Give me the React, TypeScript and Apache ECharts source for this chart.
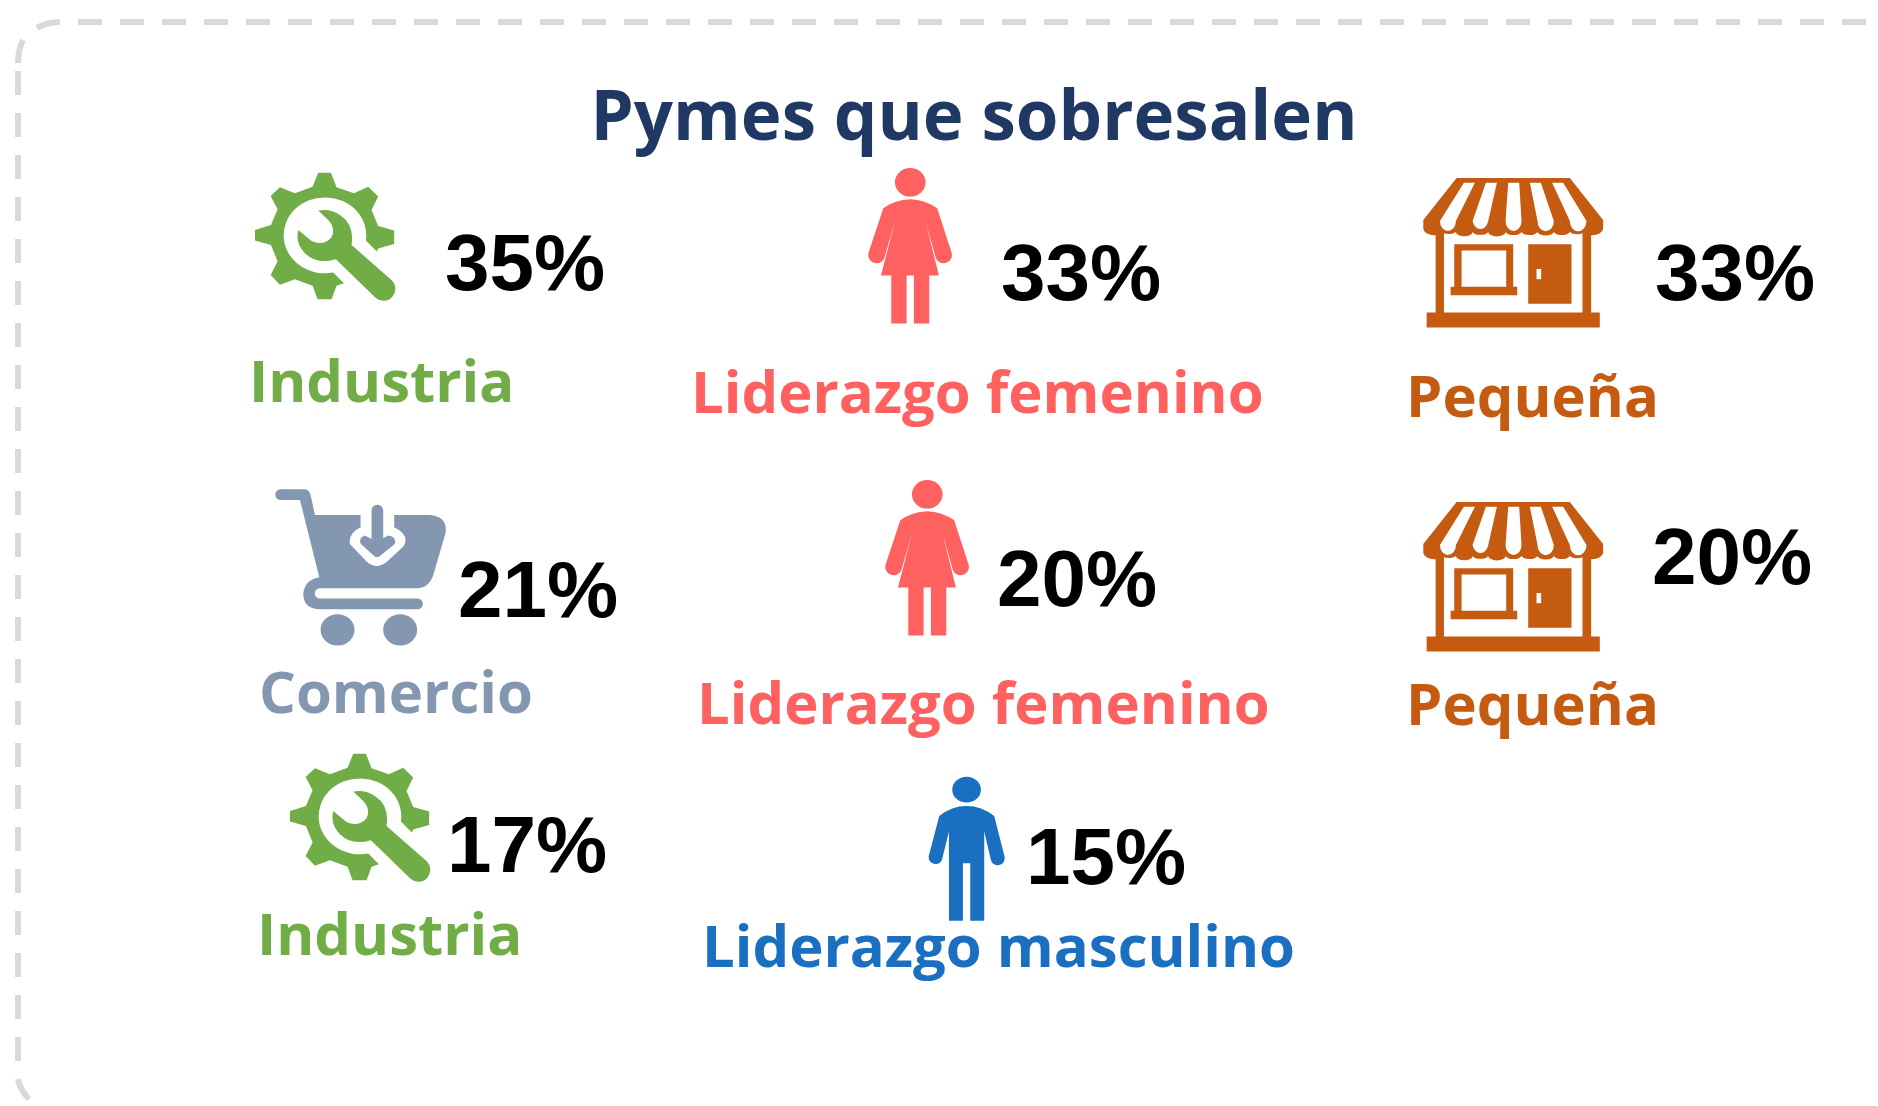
import React, { useEffect, useRef } from "react";
import * as echarts from "echarts";

const titleText = "Pymes que sobresalen";
const percentLabels = ["35%", "33%", "33%", "21%", "20%", "20%", "17%", "15%"];
const categoryLabels = ["Industria", "Liderazgo femenino", "Pequeña", "Comercio", "Liderazgo femenino", "Pequeña", "Industria", "Liderazgo masculino"];
const categoryColors = ["#70AD47", "#FF6161", "#C55A11", "#8497B0", "#FF6161", "#C55A11", "#70AD47", "#1A6FC0"];
const iconNames = ["gear", "woman", "store", "cart", "woman", "store", "gear", "man"];
const percentX = [445, 1001, 1655, 458, 997, 1652, 447, 1026];
const percentBase = [289, 299, 299, 616, 605, 583, 871, 883];
const labelX = [249, 691, 1406, 259, 697, 1406, 257, 702];
const labelBase = [402, 413, 417, 713, 724, 725, 955, 967];
const iconX = [230, 840, 1390, 250, 857, 1390, 265, 880];
const iconY = [150, 150, 160, 470, 462, 484, 731, 760];

const shapes: Record<string, string> = {
  gear: "M265 68 L303 68 L320 112 L372 130 L415 110 L445 140 L425 180 L445 228 L493 242 L493 282 L445 296 L441 305 L408 272 A124 114 0 1 0 310 368 L342 400 L320 408 L305 448 L263 448 L248 408 L195 388 L150 405 L122 375 L143 335 L123 285 L75 272 L75 240 L123 225 L143 178 L122 138 L150 112 L195 130 L248 110 Z M265 182 Q300 175 330 195 Q375 225 365 285 L484 390 A35 35 0 0 1 437 444 L318 328 Q260 345 225 310 Q195 280 205 240 L245 273 Q280 290 305 262 Q318 235 295 210 Z",
  woman: "M165 97 A46 43 0 1 1 257 97 A46 43 0 1 1 165 97 Z M130 175 Q165 150 211 148 Q255 150 292 175 L334 305 A24 24 0 0 1 288 325 L257 215 L297 377 L268 377 L268 521 L222 521 L222 377 L200 377 L200 521 L154 521 L154 377 L123 377 L165 215 L133 325 A24 24 0 0 1 87 305 Z",
  man: "M217 89 A43 39 0 1 1 303 89 A43 39 0 1 1 217 89 Z M178 168 Q215 138 260 138 Q305 138 343 168 L374 290 A21 21 0 0 1 333 300 L313 215 L313 483 L271 483 L271 310 L249 310 L249 483 L207 483 L207 215 L186 300 A21 21 0 0 1 146 290 Z",
  store: "M200 54 L540 54 L640 180 L640 205 A33 22 0 0 1 604 226 L604 458 L630 458 L630 503 L110 503 L110 458 L137 458 L137 226 A33 22 0 0 1 100 205 L100 180 Z M255 68 L222 68 L150 183 A24 30 0 0 0 198 183 Z M321 68 L288 68 L248 183 A24 30 0 0 0 295 183 Z M388 68 L355 68 L347 183 A24 30 0 0 0 395 183 Z M453 68 L420 68 L443 183 A24 30 0 0 0 492 183 Z M520 68 L487 68 L540 183 A24 30 0 0 0 590 183 Z M578 220 A25 13 0 0 1 540 216 A25 13 0 0 1 492 216 A25 13 0 0 1 443 216 A25 13 0 0 1 395 216 A25 13 0 0 1 347 216 A25 13 0 0 1 295 216 A25 13 0 0 1 248 216 A25 13 0 0 1 198 216 A25 13 0 0 1 162 220 L162 458 L578 458 Z M193 253 L370 253 L370 381 L382 381 L382 406 L182 406 L182 381 L193 381 Z M349 272 L215 272 L215 381 L349 381 Z M415 253 L545 253 L545 432 L415 432 Z M454 327 L440 327 L440 358 L454 358 Z",
  cart: "M92 58 L165 58 Q178 60 182 75 L195 135 L332 135 L332 172 Q295 190 300 222 L350 275 Q380 302 412 275 L462 228 Q480 195 433 172 L433 135 L540 135 Q595 140 587 190 L552 310 Q540 355 500 355 L210 355 A15 15 0 0 0 210 386 L503 386 A16 16 0 0 1 503 418 L205 418 Q160 415 160 370 Q165 330 208 322 L150 90 L92 90 A16 16 0 0 1 92 58 Z M365 122 A17 17 0 0 1 400 122 L400 205 L415 197 Q440 200 435 222 L390 258 Q382 265 373 258 L333 222 Q325 205 345 197 L365 207 Z M212 480 A51 47 0 1 1 314 480 A51 47 0 1 1 212 480 Z M400 480 A51 47 0 1 1 502 480 A51 47 0 1 1 400 480 Z",
  frameCorners: "M18 63 Q18 50 23 40 M37 28 Q47 22 60 22 M18 1079 Q20 1090 29 1099",
};
Object.keys(shapes).forEach((name) => {
  echarts.graphic.registerShape(name, echarts.graphic.extendPath(shapes[name], {}));
});

const PERCENT_FONT = "Liberation Sans";
const LABEL_FONT = "Open Sans";
const FRAME = "#D9D9D9";

export default function App() {
  const ref = useRef<HTMLDivElement>(null);
  useEffect(() => {
    const chart = echarts.init(ref.current!, undefined, { renderer: "svg" });
    const elements: any[] = [];
    elements.push(
      { type: "line", shape: { x1: 18, y1: 1061, x2: 18, y2: 71 }, style: { stroke: FRAME, lineWidth: 6, lineDash: [24, 18] } },
      { type: "line", shape: { x1: 78, y1: 22, x2: 1878, y2: 22 }, style: { stroke: FRAME, lineWidth: 6, lineDash: [24, 18] } },
      { type: "frameCorners", x: 0, y: 0, style: { fill: "none", stroke: FRAME, lineWidth: 6 } }
    );
    elements.push({
      type: "text", x: 974, y: 113, silent: true,
      style: { text: titleText, font: `700 69px '${LABEL_FONT}'`, fill: "#1F3864", align: "center", verticalAlign: "middle" },
    });
    percentLabels.forEach((t, i) => {
      elements.push({
        type: "text", x: percentX[i], y: percentBase[i] - 27,
        style: { text: t, font: `700 80px '${PERCENT_FONT}'`, fill: "#000000", align: "left", verticalAlign: "middle" },
      });
      elements.push({
        type: "text", x: labelX[i], y: labelBase[i] - 23,
        style: { text: categoryLabels[i], font: `700 58px '${LABEL_FONT}'`, fill: categoryColors[i], align: "left", verticalAlign: "middle" },
      });
      elements.push({
        type: iconNames[i], x: iconX[i], y: iconY[i], scaleX: 1 / 3, scaleY: 1 / 3,
        style: { fill: categoryColors[i], stroke: "none" },
      });
    });
    chart.setOption({ animation: false, backgroundColor: "#FFFFFF", graphic: { elements } });
    return () => chart.dispose();
  }, []);
  return <div ref={ref} style={{ position: "fixed", left: 0, top: 0, width: 1878, height: 1106 }} />;
}
